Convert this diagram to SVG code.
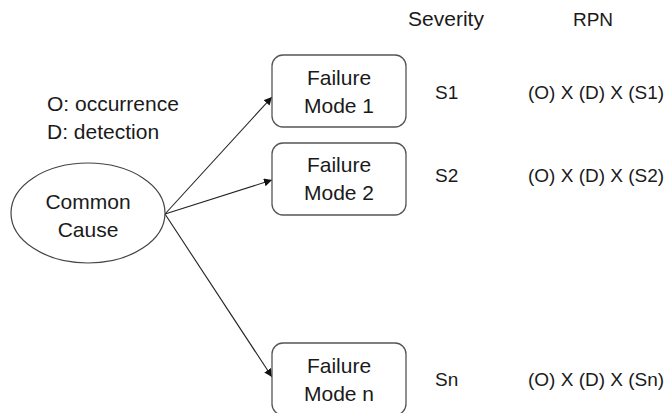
<svg xmlns="http://www.w3.org/2000/svg" width="667" height="413" viewBox="0 0 667 413">
<style>
text{font-family:"Liberation Sans",Arial,sans-serif;font-size:21px;fill:#1a1a1a}
.c{text-anchor:middle}
.s{font-size:19px}
.box{fill:#fff;stroke:#555;stroke-width:1.3}
.ln{stroke:#222;stroke-width:1.1;fill:none;marker-end:url(#ah)}
</style>
<defs>
<marker id="ah" viewBox="0 0 10 10" refX="10" refY="5" markerWidth="8" markerHeight="8" orient="auto" markerUnits="userSpaceOnUse">
<path d="M0,0 L10,5 L0,10 z" fill="#111"/>
</marker>
</defs>
<rect width="667" height="413" fill="#fff"/>
<g id="connectors">
<line class="ln" x1="165" y1="214" x2="272" y2="97"/>
<line class="ln" x1="165" y1="214" x2="272" y2="180"/>
<line class="ln" x1="165" y1="214" x2="272" y2="377"/>
</g>
<g id="common-cause">
<ellipse cx="88" cy="213" rx="77" ry="50" fill="#fff" stroke="#444" stroke-width="1.2"/>
<text class="c" x="88" y="209">Common</text>
<text class="c" x="88" y="237">Cause</text>
</g>
<g id="fm1">
<rect class="box" x="272" y="55" width="134" height="72" rx="11"/>
<text class="c" x="339" y="85">Failure</text>
<text class="c" x="339" y="113">Mode 1</text>
</g>
<g id="fm2">
<rect class="box" x="272" y="143" width="134" height="72" rx="11"/>
<text class="c" x="339" y="172">Failure</text>
<text class="c" x="339" y="200">Mode 2</text>
</g>
<g id="fmn">
<rect class="box" x="272" y="343" width="134" height="72" rx="11"/>
<text class="c" x="339" y="373">Failure</text>
<text class="c" x="339" y="401">Mode n</text>
</g>
<g id="legend">
<text x="47" y="111">O: occurrence</text>
<text x="47" y="139">D: detection</text>
</g>
<g id="headers">
<text class="c" x="446" y="26">Severity</text>
<text class="c s" x="593" y="26">RPN</text>
</g>
<g id="rows">
<text class="s" x="435" y="99">S1</text>
<text class="s" x="528" y="99">(O) X (D) X (S1)</text>
<text class="s" x="435" y="182">S2</text>
<text class="s" x="528" y="182">(O) X (D) X (S2)</text>
<text class="s" x="435" y="386">Sn</text>
<text class="s" x="528" y="386">(O) X (D) X (Sn)</text>
</g>
</svg>
